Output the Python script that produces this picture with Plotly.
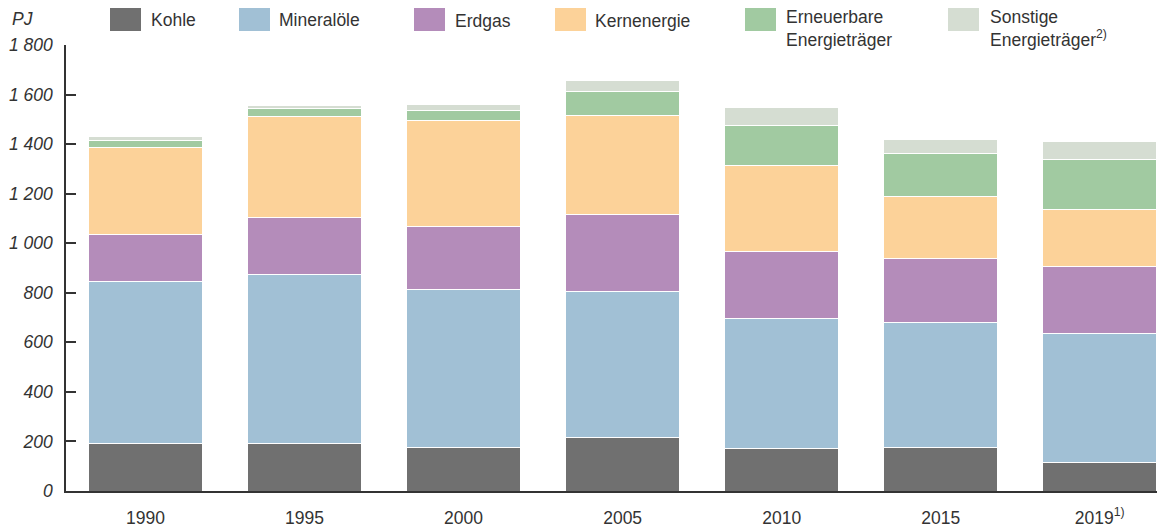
import plotly.graph_objects as go

# Jahre (Kategorien)
years = ["1990", "1995", "2000", "2005", "2010", "2015", "2019<sup>1)</sup>"]

# Werte in PJ
kohle = [192, 192, 175, 215, 171, 176, 117]
mineraloele = [655, 682, 640, 590, 524, 503, 517]
erdgas = [188, 230, 251, 311, 272, 261, 274]
kernenergie = [353, 409, 429, 399, 347, 247, 229]
erneuerbare = [28, 31, 42, 98, 162, 175, 202]
sonstige = [13, 10, 24, 45, 72, 55, 70]

series_names = ["Kohle", "Mineralöle", "Erdgas", "Kernenergie",
                "Erneuerbare<br>Energieträger", "Sonstige<br>Energieträger<sup>2)</sup>"]
series_values = [kohle, mineraloele, erdgas, kernenergie, erneuerbare, sonstige]
colors = ["#707070", "#a1c0d5", "#b48cba", "#fcd299", "#a1caa1", "#d5ddd2"]

y_tickvals = [0, 200, 400, 600, 800, 1000, 1200, 1400, 1600, 1800]
y_ticktext = ["0", "200", "400", "600", "800", "1 000", "1 200", "1 400", "1 600", "1 800"]

# Layout in Pixeln
W, H = 1157, 527
ML, MR, MT, MB = 66, 0, 45, 36
PW = W - ML - MR
PH = H - MT - MB

FONT = "Liberation Sans, Arial, sans-serif"
TXT = "#333333"


def px_x(p):
    return (p - ML) / PW


def px_y(p):
    return (H - MB - p) / PH


fig = go.Figure()

for name, vals, col in zip(series_names, series_values, colors):
    fig.add_trace(go.Bar(
        x=years,
        y=vals,
        name=name,
        marker=dict(color=col, line=dict(color="white", width=1)),
        showlegend=False,
        hoverinfo="y+name",
    ))

# eigene Legende (große Farbfelder)
legend_box_x = [110, 239, 414, 555, 745, 948]
legend_text_x = [149, 277, 453, 593, 784, 988]
legend_text_y = [20, 20, 21, 21, 28, 28]

shapes = []
annotations = []
for i, (name, col) in enumerate(zip(series_names, colors)):
    shapes.append(dict(
        type="rect", xref="paper", yref="paper",
        x0=px_x(legend_box_x[i]), x1=px_x(legend_box_x[i] + 31),
        y0=px_y(31), y1=px_y(8),
        fillcolor=col, line=dict(width=0), layer="above",
    ))
    annotations.append(dict(
        text=name, xref="paper", yref="paper",
        x=px_x(legend_text_x[i]), y=px_y(legend_text_y[i]),
        xanchor="left", yanchor="middle", align="left",
        showarrow=False, font=dict(family=FONT, size=17.5, color=TXT),
    ))

annotations.append(dict(
    text="<i>PJ</i>", xref="paper", yref="paper",
    x=px_x(10), y=px_y(19), xanchor="left", yanchor="middle",
    showarrow=False, font=dict(family=FONT, size=17.5, color=TXT),
))

fig.update_layout(
    barmode="stack",
    bargap=0.283,
    width=W, height=H,
    margin=dict(l=ML, r=MR, t=MT, b=MB, pad=0),
    paper_bgcolor="white",
    plot_bgcolor="white",
    font=dict(family=FONT, size=17.5, color=TXT),
    shapes=shapes,
    annotations=annotations,
)

fig.update_xaxes(
    range=[-0.5, 6.36],
    showline=True, linecolor="#333333", linewidth=1.5,
    ticks="", showgrid=False, zeroline=False,
    ticklabelstandoff=10,
    tickfont=dict(family=FONT, size=17.5, color=TXT),
    fixedrange=True,
)

fig.update_yaxes(
    range=[0, 1800],
    tickvals=y_tickvals,
    ticktext=["<i>" + t + "</i>" for t in y_ticktext],
    showline=True, linecolor="#333333", linewidth=1.5,
    ticks="inside", ticklen=10, tickwidth=1.5, tickcolor="#333333",
    showgrid=False, zeroline=False,
    ticklabelstandoff=8,
    tickfont=dict(family=FONT, size=17.5, color=TXT),
    fixedrange=True,
)

fig.write_html(
    "out.html",
    config={"displayModeBar": False},
    post_script="document.body.style.margin='0';document.body.style.overflow='hidden';",
)
